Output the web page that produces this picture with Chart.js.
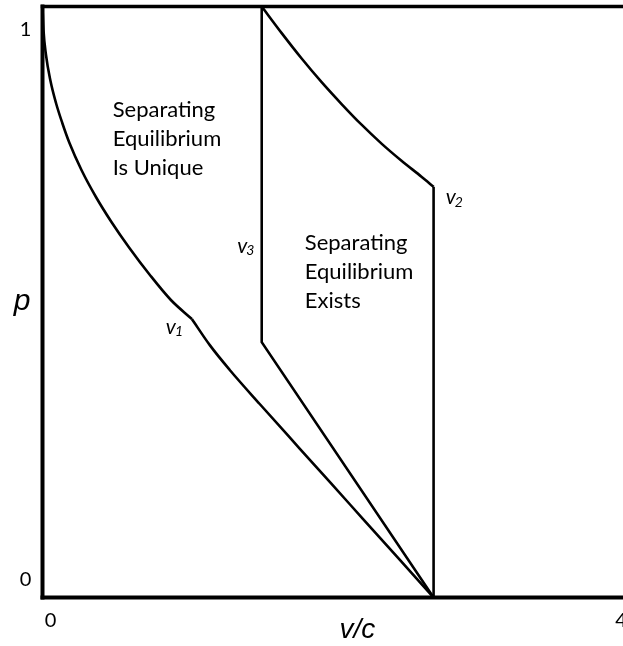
<!DOCTYPE html>
<html>
<head>
<meta charset="utf-8">
<title>Separating equilibrium regions</title>
<script src="https://cdn.jsdelivr.net/npm/chart.js@4/dist/chart.umd.min.js"></script>
<style>
  html, body { margin: 0; padding: 0; background: #ffffff; }
  #wrap { width: 623px; height: 646px; }
</style>
</head>
<body>
<div id="wrap"><canvas id="chart" width="623" height="646"></canvas></div>
<script>
// Boundary v1, upper part: from (0, 1) down to the kink at v1
const v1UpperX = [0, 0.0070, 0.0245, 0.0546, 0.0946, 0.1387, 0.1891, 0.2732, 0.3748, 0.4834, 0.6095, 0.7531, 0.9002, 1.0473];
const v1UpperP = [1.0, 0.9602, 0.9179, 0.8756, 0.8367, 0.8029, 0.7690, 0.7234, 0.6777, 0.6354, 0.5914, 0.5457, 0.5034, 0.4712];

// Boundary v1, lower part: from the kink down to p = 0
const v1LowerX = [1.0473, 1.173, 1.313, 1.523, 1.803, 2.153, 2.504, 2.742];
const v1LowerP = [0.4712, 0.427, 0.385, 0.3274, 0.2521, 0.1582, 0.0640, 0];

// Boundary v3: vertical drop, then straight to p = 0
const v3X = [1.537, 1.537, 2.742];
const v3P = [1.0, 0.432, 0];

// Boundary v2: curved upper edge, then vertical drop to p = 0
const v2CurveX = [1.537, 1.677, 1.817, 1.957, 2.097, 2.237, 2.377, 2.517, 2.657, 2.742];
const v2CurveP = [1.0, 0.955, 0.912, 0.872, 0.835, 0.800, 0.768, 0.739, 0.712, 0.695];
const v2DropX = [2.742, 2.742];
const v2DropP = [0.695, 0];

// Axis tick labels
const xTickValues = [0, 4];
const xTickLabels = ['0', '4'];
const yTickValues = [0, 1];
const yTickLabels = ['0', '1'];

// Region and curve labels (text, anchor in data units)
const regionLabels = [
  { lines: ['Separating', 'Equilibrium', 'Is Unique'], x: 0.492, p: 0.825 },
  { lines: ['Separating', 'Equilibrium', 'Exists'], x: 1.839, p: 0.600 }
];
const curveLabels = [
  { sub: '1', x: 0.900, p: 0.458 },
  { sub: '3', x: 1.401, p: 0.595 },
  { sub: '2', x: 2.862, p: 0.677 }
];

function pts(xs, ps) { return xs.map((x, i) => ({ x: x, y: ps[i] })); }

function lineSet(xs, ps, smooth) {
  return {
    data: pts(xs, ps),
    showLine: true,
    borderColor: '#000000',
    borderWidth: 2.6,
    pointRadius: 0,
    fill: false,
    tension: 0,
    cubicInterpolationMode: smooth ? 'monotone' : 'default'
  };
}

const bodyFont = 'Lato, "Open Sans", sans-serif';

const frameAndText = {
  id: 'frameAndText',
  afterDatasetsDraw(chart) {
    const ctx = chart.ctx;
    const xs = chart.scales.x, ys = chart.scales.y;
    const x0 = xs.getPixelForValue(0);
    const yBottom = ys.getPixelForValue(0);
    const yTop = ys.getPixelForValue(1);
    const W = chart.width;
    ctx.save();
    ctx.strokeStyle = '#000000';
    ctx.lineCap = 'square';
    // left axis
    ctx.lineWidth = 4;
    ctx.beginPath(); ctx.moveTo(x0, yTop); ctx.lineTo(x0, yBottom); ctx.stroke();
    // bottom axis
    ctx.beginPath(); ctx.moveTo(x0, yBottom); ctx.lineTo(W + 2, yBottom); ctx.stroke();
    // top edge
    ctx.lineWidth = 3.5;
    ctx.beginPath(); ctx.moveTo(x0, yTop); ctx.lineTo(W + 2, yTop); ctx.stroke();

    ctx.fillStyle = '#000000';
    // tick labels
    ctx.font = '20px ' + bodyFont;
    ctx.textAlign = 'center';
    ctx.textBaseline = 'middle';
    xTickValues.forEach((v, i) => {
      ctx.fillText(xTickLabels[i], xs.getPixelForValue(v) + 8, yBottom + 23);
    });
    yTickValues.forEach((v, i) => {
      const off = v === 0 ? -18 : 23;
      ctx.fillText(yTickLabels[i], x0 - 17, ys.getPixelForValue(v) + off);
    });

    // axis titles
    ctx.font = 'italic 30px "Liberation Sans", Arial, sans-serif';
    ctx.fillText('p', 22, (yTop + yBottom) / 2);
    ctx.font = 'italic 28px "Liberation Sans", Arial, sans-serif';
    ctx.fillText('v/c', xs.getPixelForValue(2.207), yBottom + 33);

    // region labels
    ctx.font = '22px ' + bodyFont;
    ctx.textAlign = 'left';
    regionLabels.forEach(lbl => {
      const lx = xs.getPixelForValue(lbl.x);
      const ly = ys.getPixelForValue(lbl.p);
      lbl.lines.forEach((t, k) => ctx.fillText(t, lx, ly + k * 29));
    });

    // curve labels v1, v2, v3
    curveLabels.forEach(lbl => {
      const lx = xs.getPixelForValue(lbl.x);
      const ly = ys.getPixelForValue(lbl.p);
      ctx.font = 'italic 21px ' + bodyFont;
      ctx.textAlign = 'center';
      ctx.fillText('v', lx, ly);
      const w = ctx.measureText('v').width;
      ctx.font = 'italic 14px ' + bodyFont;
      ctx.textAlign = 'left';
      ctx.fillText(lbl.sub, lx + w / 2 - 1, ly + 5);
    });
    ctx.restore();
  }
};

new Chart(document.getElementById('chart'), {
  type: 'scatter',
  data: {
    datasets: [
      lineSet(v1UpperX, v1UpperP, true),
      lineSet(v1LowerX, v1LowerP, true),
      lineSet(v3X, v3P, false),
      lineSet(v2CurveX, v2CurveP, true),
      lineSet(v2DropX, v2DropP, false)
    ]
  },
  options: {
    responsive: false,
    animation: false,
    layout: { padding: { left: 42.5, top: 6.5, right: 0, bottom: 48.5 } },
    plugins: { legend: { display: false }, tooltip: { enabled: false } },
    scales: {
      x: { type: 'linear', min: 0, max: 4.07, display: false },
      y: { type: 'linear', min: 0, max: 1, display: false }
    }
  },
  plugins: [frameAndText]
});
</script>
</body>
</html>
